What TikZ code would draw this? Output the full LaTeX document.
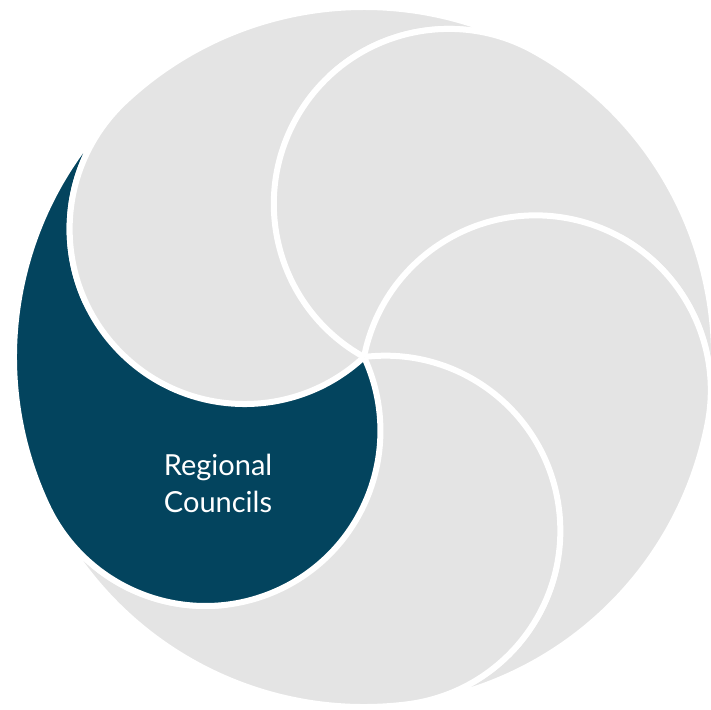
\documentclass[tikz,border=0pt]{standalone}
\usepackage{fontspec}
\setmainfont{Lato}
\definecolor{swirldark}{HTML}{03445E}
\definecolor{swirlgray}{HTML}{E4E4E4}
\tikzset{
  swirlline/.style={draw=white, line width=6pt, line join=round},
  labeltext/.style={text=white, font=\fontsize{29}{35}\selectfont, inner sep=0pt, anchor=base}
}
\begin{document}
\begin{tikzpicture}[x=1pt,y=1pt]
\useasboundingbox (-364,-352) rectangle (347,357);
% fills: each petal minus the two petals that lie over it
\foreach \k in {0,...,4}{
  \pgfmathsetmacro{\t}{205-72*\k}
  \pgfmathsetmacro{\ta}{\t-72}
  \pgfmathsetmacro{\tb}{\t-144}
  \pgfmathsetmacro{\te}{\t+288}
  \ifnum\k=0 \def\col{swirldark}\else\def\col{swirlgray}\fi
  \begin{scope}
    \clip (-600,-600) -- (600,-600) -- (600,600) -- (-600,600) -- cycle
      (\ta:175) ++(175,0) arc[start angle=0,end angle=-360,radius=175];
    \clip (-600,-600) -- (600,-600) -- (600,600) -- (-600,600) -- cycle
      (\tb:175) ++(175,0) arc[start angle=0,end angle=-360,radius=175];
    \fill[fill=\col] (\ta:350) arc[start angle=\ta,end angle=\t,radius=350]
      arc[start angle=\t,end angle=\te,radius=175]
      arc[start angle=\t,end angle=\ta,radius=175] -- cycle;
  \end{scope}
}
% white outlines
\foreach \k in {0,...,4}{
  \pgfmathsetmacro{\t}{205-72*\k}
  \pgfmathsetmacro{\ta}{\t-72}
  \pgfmathsetmacro{\tb}{\t-144}
  \pgfmathsetmacro{\te}{\t+288}
  \begin{scope}
    \clip (-600,-600) -- (600,-600) -- (600,600) -- (-600,600) -- cycle
      (\ta:175) ++(175,0) arc[start angle=0,end angle=-360,radius=175];
    \clip (-600,-600) -- (600,-600) -- (600,600) -- (-600,600) -- cycle
      (\tb:175) ++(175,0) arc[start angle=0,end angle=-360,radius=175];
    \draw[swirlline] (\ta:350) arc[start angle=\ta,end angle=\t,radius=350]
      arc[start angle=\t,end angle=\te,radius=175]
      arc[start angle=\t,end angle=\ta,radius=175] -- cycle;
  \end{scope}
}
\node[labeltext] (regional) at (-146,-118) {Regional};
\node[labeltext] (councils) at (-146,-155) {Councils};
\end{tikzpicture}
\end{document}
